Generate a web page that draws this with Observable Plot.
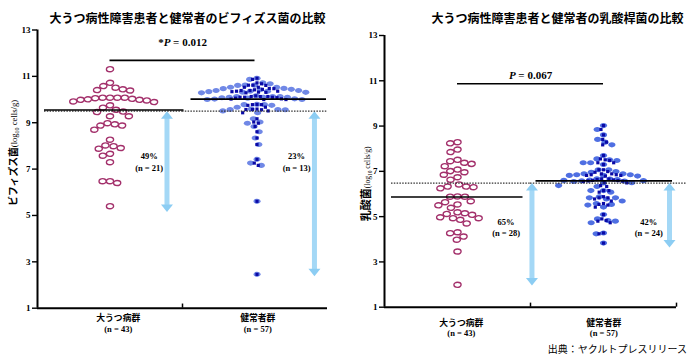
<!DOCTYPE html>
<html><head><meta charset="utf-8">
<script src="https://cdn.jsdelivr.net/npm/d3@7"></script>
<script src="https://cdn.jsdelivr.net/npm/@observablehq/plot@0.6"></script>
<style>
body{margin:0;background:#fff;}
#wrap{position:relative;width:700px;height:356px;overflow:hidden;font-family:"Noto Sans CJK JP",sans-serif;}
.panel{position:absolute;top:0;width:350px;height:356px;}
.title{position:absolute;top:12px;font-size:12px;line-height:12px;font-weight:bold;white-space:nowrap;transform:translateX(-50%);color:#000;}
.caption{position:absolute;right:13px;top:344px;font-size:10px;line-height:10px;white-space:nowrap;color:#000;}
</style></head><body><div id="wrap"></div>
<script>
// ---------- data ----------
const groups = ["大うつ病群", "健常者群"];
const groupN = [43, 57];
const yTicks = [1, 3, 5, 7, 9, 11, 13];

const titles = ["大うつ病性障害患者と健常者のビフィズス菌の比較", "大うつ病性障害患者と健常者の乳酸桿菌の比較"];
const caption = "出典：ヤクルトプレスリリース";

// ビフィズス菌 (log10 cells/g)
const bifidoDepression = [11.31, 10.72, 10.58, 10.51, 10.44, 10.41, 10.39,
  10.08, 10.08, 10.08, 10.08, 10.06, 10.03, 10.01, 9.99, 9.99, 9.96, 9.92, 9.89, 9.75,
  9.65, 9.56, 9.48, 9.46,
  9.28, 9.28, 8.98, 8.93, 8.88, 8.88, 8.70, 8.27, 8.02, 7.99, 7.91, 7.88, 7.66, 7.58, 7.30, 6.48, 6.48, 6.40, 5.40];
const bifidoHealthy = [10.92, 10.87, 10.72, 10.68,
  10.62, 10.62, 10.61, 10.53, 10.53, 10.48, 10.47, 10.44, 10.42, 10.39, 10.39, 10.36, 10.36, 10.34, 10.32, 10.31, 10.29,
  10.16, 10.13, 10.13, 10.13, 10.10, 10.10, 10.10, 10.08, 10.06, 10.03, 10.02, 10.00, 10.00,
  9.79, 9.78, 9.78, 9.75, 9.67, 9.59, 9.57, 9.57, 9.56, 9.51, 9.43,
  9.17, 9.03, 8.98, 8.84, 8.61, 8.34, 8.06, 7.42, 7.26, 7.16, 5.61, 2.46];
const bifidoMedians = [9.55, 10.02];
const bifidoCutoff = 9.5;
const bifidoPct = ["49%", "23%"];
const bifidoBelowN = [21, 13];
const bifidoArrowEnd = [5.15, 2.38];
const bifidoP = "*P = 0.012";

// 乳酸菌 (log10 cells/g)
const lactoDepression = [8.29, 8.24, 7.96, 7.85, 7.51, 7.45, 7.38, 7.33, 7.23, 7.08, 7.01, 6.96, 6.85, 6.74, 6.63,
  6.42, 6.33, 6.33, 6.30, 6.25, 5.89, 5.88, 5.88, 5.68, 5.64, 5.54, 5.50, 5.39, 5.19, 5.15, 5.12, 5.08,
  4.97, 4.93, 4.93, 4.86, 4.70, 4.31, 4.27, 4.12, 3.98, 3.46, 1.99];
const lactoHealthy = [9.02, 8.85, 8.61, 8.41, 8.29, 8.17, 7.70, 7.55, 7.51, 7.48, 7.38, 7.38, 7.30,
  7.07, 7.07, 6.99, 6.96, 6.89, 6.89, 6.85, 6.85, 6.82, 6.82, 6.79,
  6.67, 6.66, 6.64, 6.62, 6.60, 6.59, 6.58, 6.57, 6.55, 6.50, 6.49,
  6.37, 6.33, 6.15, 6.08, 6.15, 5.88, 5.83, 5.83, 5.78, 5.69, 5.58, 5.54, 5.51, 5.42,
  5.09, 4.90, 4.83, 4.80, 4.73, 4.28, 4.24, 3.83];
const lactoMedians = [5.87, 6.58];
const lactoCutoff = 6.48;
const lactoPct = ["65%", "42%"];
const lactoBelowN = [28, 24];
const lactoArrowEnd = [1.96, 3.64];
const lactoP = "P = 0.067";

// ---------- drawing ----------
const ellipse = {
  draw(ctx, size) {
    const r = Math.sqrt(size / Math.PI);
    const rx = r * 1.12, ry = r * 0.8, k = 0.5523;
    ctx.moveTo(rx, 0);
    ctx.bezierCurveTo(rx, ry * k, rx * k, ry, 0, ry);
    ctx.bezierCurveTo(-rx * k, ry, -rx, ry * k, -rx, 0);
    ctx.bezierCurveTo(-rx, -ry * k, -rx * k, -ry, 0, -ry);
    ctx.bezierCurveTo(rx * k, -ry, rx, -ry * k, rx, 0);
    ctx.closePath();
  }
};
const head = {
  draw(ctx) { ctx.moveTo(0, 0); ctx.lineTo(6, 7.5); ctx.lineTo(-6, 7.5); ctx.closePath(); }
};

const serif = "Liberation Serif";
const rich = {
  "*P = 0.012": [["*"], ["P", {"font-style": "italic"}], [" = 0.012"]],
  "P = 0.067": [["P", {"font-style": "italic"}], [" = 0.067"]],
  "Y1": [["ビフィズス菌", {"font-size": 9.8}], ["(log", {"font-family": serif, "font-size": 8.6, "font-weight": "normal"}],
         ["10", {"font-family": serif, "font-size": 6, "font-weight": "normal", dy: 2}],
         [" cells/g)", {"font-family": serif, "font-size": 8.6, "font-weight": "normal", dy: -2}]],
  "Y2": [["乳酸菌", {"font-size": 11}], ["(log", {"font-family": serif, "font-size": 7.6, "font-weight": "normal"}],
         ["10", {"font-family": serif, "font-size": 5.4, "font-weight": "normal", dy: 1.8}],
         [" cells/g)", {"font-family": serif, "font-size": 7.6, "font-weight": "normal", dy: -1.8}]]
};

function makePanel(c) {
  const dep = c.dep.map(v => ({g: groups[0], v}));
  const hea = c.hea.map(v => ({g: groups[1], v}));
  const rows = groups.map((g, i) => ({
    g, n: groupN[i], median: c.medians[i], pct: c.pct[i], belowN: c.belowN[i],
    top: c.cutoff, bottom: c.arrowEnd[i], ax: c.arrowX[i], tx: c.textX[i], lx: c.labelX[i],
    b1: i === 0 ? 0.5 : 0, b2: i === 0 ? 1 : 0.5
  }));
  const first = rows.slice(0, 1), second = rows.slice(1);
  const dodge = (o) => Plot.dodgeX("middle", {fx: "g", y: "v", r: 3.2, padding: 1, ...o});
  const lineStyle = {stroke: "#000", strokeWidth: 1.6};
  return Plot.plot({
    width: 350, height: 356,
    marginLeft: c.ml, marginRight: c.mr, marginTop: c.mt, marginBottom: c.mb,
    fx: {domain: groups, padding: 0, axis: null},
    x: {domain: [0, 1], axis: null},
    y: {domain: [1, 13], axis: null},
    style: {background: "transparent", overflow: "visible", color: "#000"},
    marks: [
      // arrows (cases below cutoff)
      Plot.ruleX(rows, {fx: "g", x: "ax", y1: "top", y2: "bottom", insetTop: 6, insetBottom: 6, stroke: "#a4d8f6", strokeWidth: 5}),
      Plot.dot(rows, {fx: "g", x: "ax", y: "top", symbol: head, fill: "#8ccdf3", stroke: "none"}),
      Plot.dot(rows, {fx: "g", x: "ax", y: "bottom", symbol: head, rotate: 180, fill: "#8ccdf3", stroke: "none"}),
      // dots
      Plot.dot(dep, dodge({symbol: ellipse, fill: "#fff", stroke: "#a3306b", strokeWidth: 1.4})),
      Plot.dot(hea, dodge({symbol: ellipse, fill: c.heaHalo, stroke: "none", dx: c.heaDx})),
      Plot.dot(hea, dodge({symbol: "square", r: 1.8, fill: "#0a0aa6", stroke: "none", dx: c.heaDx})),
      // cutoff
      Plot.ruleY(first, {fx: "g", y: "top", insetLeft: 7, stroke: "#333", strokeWidth: 1.2, strokeDasharray: "1.5,1.3"}),
      Plot.ruleY(second, {fx: "g", y: "top", insetRight: c.cutRight, stroke: "#333", strokeWidth: 1.2, strokeDasharray: "1.5,1.3"}),
      // medians
      Plot.ruleY(first, {fx: "g", y: "median", insetLeft: c.medInset[0][0], insetRight: c.medInset[0][1], ...lineStyle}),
      Plot.ruleY(second, {fx: "g", y: "median", insetLeft: c.medInset[1][0], insetRight: c.medInset[1][1], ...lineStyle}),
      // p bracket
      Plot.ruleY(rows, {fx: "g", y: () => c.bracketY, x1: "b1", x2: "b2", ...lineStyle}),
      Plot.text(second, {fx: "g", x: () => 0, y: () => c.pY, dx: c.pDx, text: () => c.p, fontFamily: serif, fontWeight: "bold", fontSize: 11}),
      // percentages
      Plot.text(rows, {fx: "g", x: "tx", y: () => c.textY, text: d => `${d.pct}\n(n = ${d.belowN})`,
        fontFamily: serif, fontWeight: "bold", fontSize: 8.5, lineHeight: 1.35}),
      // axes
      Plot.axisY({ticks: yTicks, tickSize: 5, tickPadding: 2, fontSize: 9, fontFamily: serif, fontWeight: "bold", strokeWidth: 1.4}),
      Plot.ruleX(first, {fx: "g", x: () => 0, y1: () => 1, y2: () => 13, stroke: "#000", strokeWidth: 2}),
      Plot.ruleY([1], {stroke: "#000", strokeWidth: 2}),
      Plot.ruleX(c.endTicks ? rows : first, {fx: "g", x: () => 1, y1: () => 1, y2: () => 1.18, stroke: "#000", strokeWidth: 1.5}),
      // y label
      Plot.text(first, {fx: "g", x: () => 0, y: () => c.yLabelY, dx: c.yLabelDx, rotate: -90, text: () => c.yLabelKey,
        fontFamily: "Noto Sans CJK JP", fontWeight: "bold", fontSize: 10}),
      // group labels
      Plot.text(rows, {fx: "g", x: "lx", frameAnchor: "bottom", dy: c.nameDy, text: "g", fontFamily: "Noto Sans CJK JP", fontWeight: "bold", fontSize: 8.8}),
      Plot.text(rows, {fx: "g", x: "lx", frameAnchor: "bottom", dy: c.nDy, text: d => `(n = ${d.n})`, fontFamily: serif, fontWeight: "bold", fontSize: 8.5})
    ]
  });
}

function enrich(svg) {
  d3.select(svg).selectAll("text").each(function () {
    const parts = rich[this.textContent];
    if (!parts) return;
    const t = d3.select(this);
    t.text(null);
    for (const [s, attrs = {}] of parts) {
      const ts = t.append("tspan").text(s);
      for (const [k, v] of Object.entries(attrs)) ts.attr(k, v);
    }
  });
  return svg;
}

const wrap = document.getElementById("wrap");
const left = enrich(makePanel({
  dep: bifidoDepression, hea: bifidoHealthy, medians: bifidoMedians, cutoff: bifidoCutoff,
  pct: bifidoPct, belowN: bifidoBelowN, arrowEnd: bifidoArrowEnd, p: bifidoP,
  ml: 36, mr: 23, mt: 29.5, mb: 48.3,
  arrowX: [0.893, 0.91], textX: [0.77, 0.787], labelX: [0.557, 0.519],
  textY: 7.33, bracketY: 11.69, pY: 12.47, pDx: 0,
  medInset: [[7, -1.5], [8.5, 1]], cutRight: 0, heaDx: 2, heaHalo: "#7088e6",
  endTicks: false, yLabelY: 7.7, yLabelDx: -24, yLabelKey: "Y1", nameDy: 12.3, nDy: 24
}));
const right = enrich(makePanel({
  dep: lactoDepression, hea: lactoHealthy, medians: lactoMedians, cutoff: lactoCutoff,
  pct: lactoPct, belowN: lactoBelowN, arrowEnd: lactoArrowEnd, p: lactoP,
  ml: 33, mr: 24, mt: 35, mb: 49.3,
  arrowX: [1.01, 0.952], textX: [0.833, 0.81], labelX: [0.526, 0.502],
  textY: 4.56, bracketY: 10.87, pY: 11.23, pDx: 0,
  medInset: [[7, 7.5], [5.5, 4]], cutRight: -10, heaDx: 0, heaHalo: "#4f6fe2",
  endTicks: true, yLabelY: 6.45, yLabelDx: -18, yLabelKey: "Y2", nameDy: 18.3, nDy: 29
}));
for (const [svg, x] of [[left, 0], [right, 350]]) {
  const d = document.createElement("div");
  d.className = "panel"; d.style.left = x + "px";
  d.appendChild(svg); wrap.appendChild(d);
}
for (const [t, cx] of [[titles[0], 187.5], [titles[1], 557.5]]) {
  const d = document.createElement("div");
  d.className = "title"; d.style.left = cx + "px"; d.textContent = t; wrap.appendChild(d);
}
const cap = document.createElement("div");
cap.className = "caption"; cap.textContent = caption; wrap.appendChild(cap);
</script></body></html>
